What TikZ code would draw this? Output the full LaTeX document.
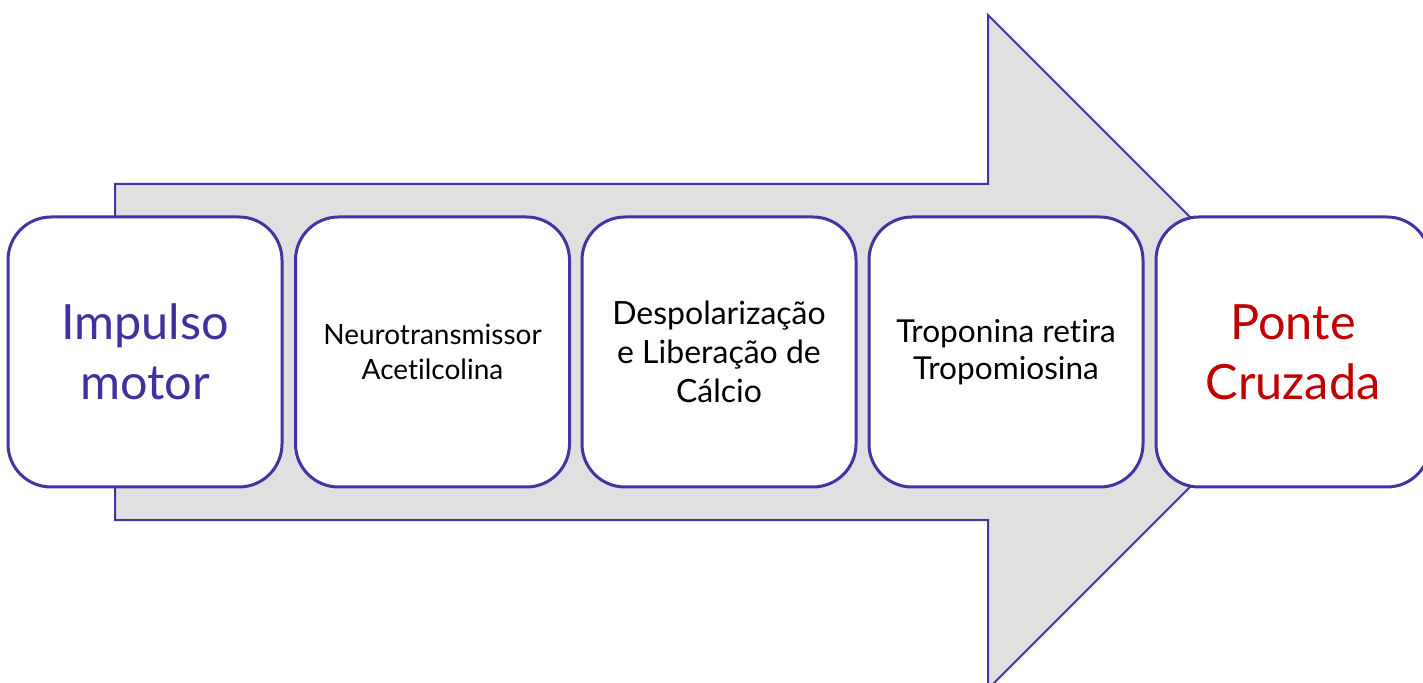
\documentclass[tikz,border=0pt]{standalone}
\usepackage{fontspec}
\setmainfont{Lato}[Ligatures={NoCommon}]
\definecolor{edge}{HTML}{4333A3}
\definecolor{shaft}{HTML}{E0E0E0}
\definecolor{bluetxt}{HTML}{4230A0}
\definecolor{redtxt}{HTML}{C00000}
\tikzset{
  stepbox/.style={draw=edge, line width=1.5pt, fill=white, rounded corners=21.5pt,
    minimum width=137pt, minimum height=135pt, inner sep=0pt, align=center},
  bigtxt/.style={font=\fontsize{24.3}{30}\selectfont},
  smalltxt/.style={font=\fontsize{14}{17.5}\selectfont},
  midtxt/.style={font=\fontsize{16}{19.5}\selectfont},
  trtxt/.style={font=\fontsize{15.8}{18.5}\selectfont},
}
\begin{document}
\begin{tikzpicture}[x=0.5pt,y=-0.5pt]
\useasboundingbox (0,0) rectangle (1423,683);
\clip (0,0) rectangle (1423,683);
\draw[draw=edge, line width=1pt, fill=shaft, line join=miter]
  (115,184) -- (988,184) -- (988,15) -- (1325,352) -- (988,689) -- (988,520) -- (115,520) -- cycle;
\node[stepbox, bigtxt, text=bluetxt] (b1) at (145,352) {Impulso\\motor};
\node[stepbox, smalltxt] (b2) at (432.5,352) {Neurotransmissor\\Acetilcolina};
\node[stepbox, midtxt] (b3) at (719,352) {Despolarização\\e Liberação de\\Cálcio};
\node[stepbox, trtxt] (b4) at (1006,352) {Troponina retira\\Tropomiosina};
\node[stepbox, bigtxt, text=redtxt] (b5) at (1293,352) {Ponte\\Cruzada};
\end{tikzpicture}
\end{document}
